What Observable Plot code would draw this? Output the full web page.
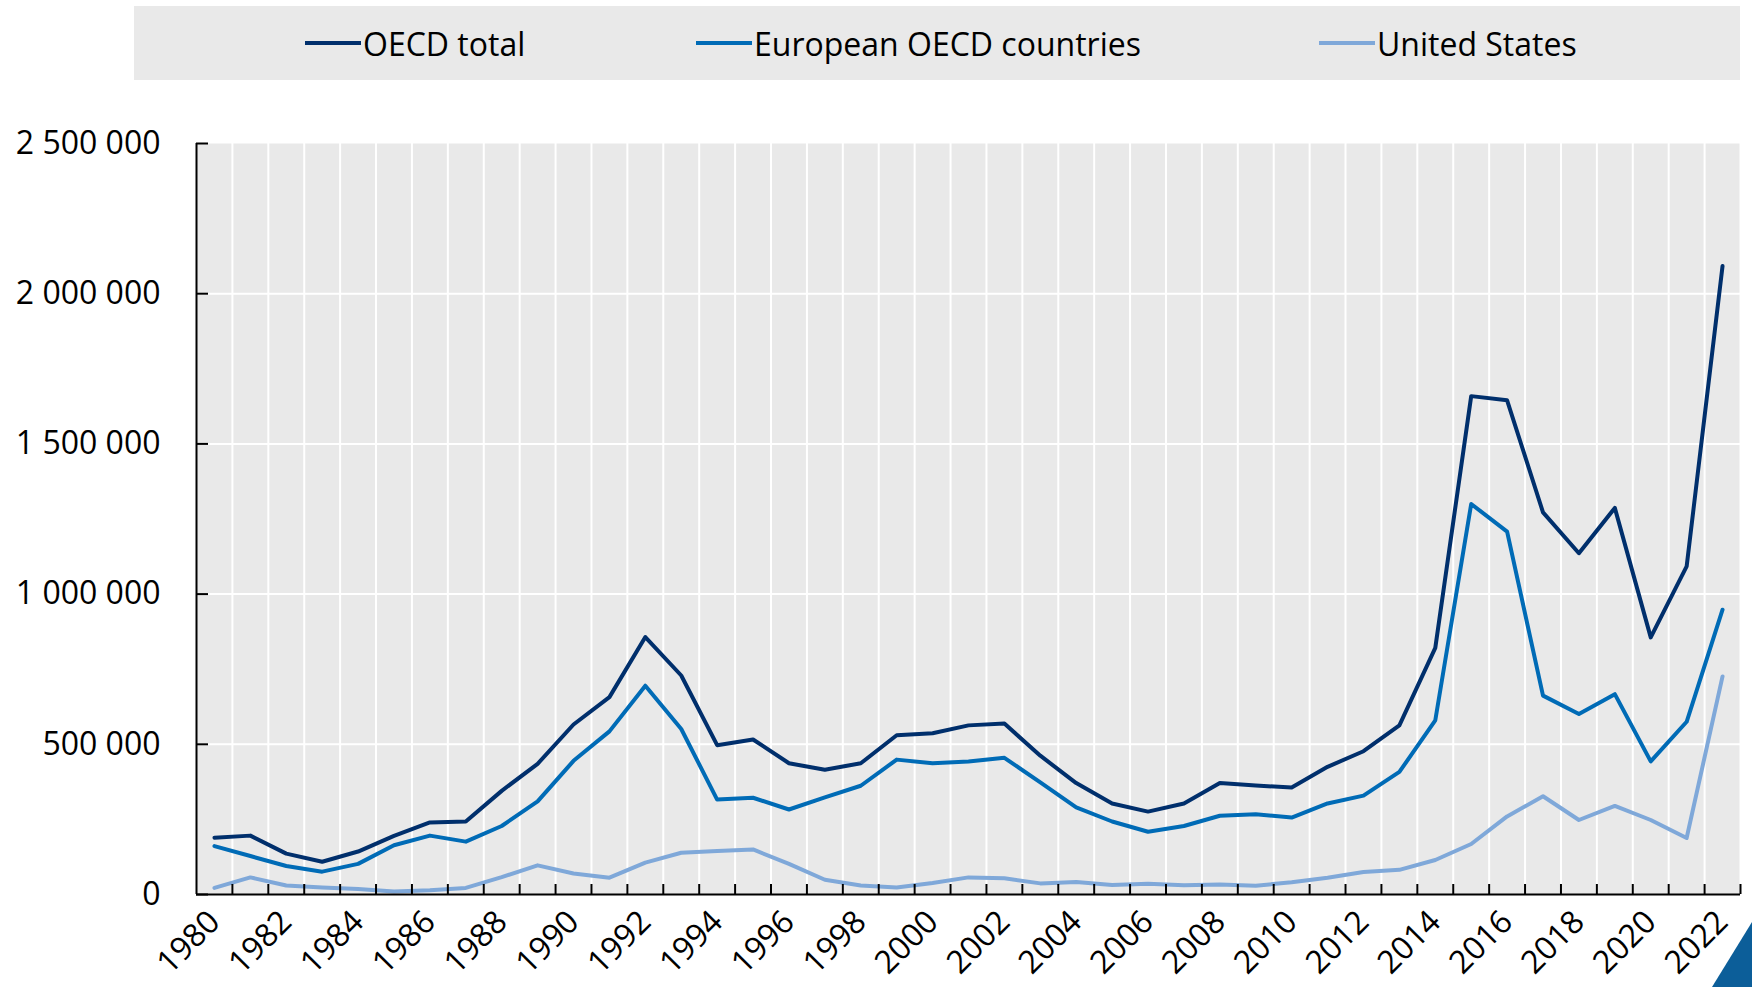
<!DOCTYPE html>
<html><head><meta charset="utf-8">
<script src="https://cdn.jsdelivr.net/npm/d3@7"></script>
<script src="https://cdn.jsdelivr.net/npm/@observablehq/plot@0.6"></script>
<style>
body{margin:0;background:#fff;font-family:"Open Sans",sans-serif;}
#wrap{position:relative;width:1752px;height:987px;overflow:hidden;}
#legend{position:absolute;left:134px;top:6px;width:1606px;height:74px;background:#e9e9e9;}
.item{position:absolute;top:0;height:74px;display:flex;align-items:center;font-size:32px;color:#000;white-space:nowrap;}
.sw{width:56px;height:4px;margin-right:2px;}
#chart{position:absolute;left:0;top:90px;}
#corner{position:absolute;right:0;bottom:0;width:40px;height:65px;background:#0c5e99;clip-path:polygon(100% 0,100% 100%,0 100%);}
</style>
</head><body>
<div id="wrap">
  <div id="legend"></div>
  <div id="chart"></div>
  <div id="corner"></div>
</div>
<script>
const years = [1980,1981,1982,1983,1984,1985,1986,1987,1988,1989,1990,1991,1992,1993,1994,1995,1996,1997,1998,1999,2000,2001,2002,2003,2004,2005,2006,2007,2008,2009,2010,2011,2012,2013,2014,2015,2016,2017,2018,2019,2020,2021,2022];
const seriesNames = ["OECD total", "European OECD countries", "United States"];
const seriesColors = ["#002f6c", "#006bb6", "#7fa8d9"];
const oecdTotal = [189000,196000,136000,109000,143000,195000,240000,243000,345000,435000,
  566000,657000,857000,729000,497000,516000,437000,415000,437000,530000,
  537000,563000,569000,462000,371000,303000,276000,303000,371000,363000,
  356000,425000,477000,563000,821000,1659000,1645000,1272000,1136000,1287000,
  856000,1092000,2092000];
const european = [161000,128000,95000,76000,102000,164000,196000,176000,228000,310000,
  445000,543000,695000,551000,316000,322000,283000,323000,362000,449000,
  437000,443000,455000,373000,290000,243000,209000,228000,262000,267000,
  256000,303000,329000,408000,580000,1300000,1208000,662000,601000,667000,
  443000,575000,948000];
const unitedStates = [22000,57000,30000,23000,18000,10000,14000,22000,58000,97000,
  70000,56000,106000,139000,145000,150000,102000,49000,30000,23000,
  38000,57000,54000,37000,42000,32000,36000,31000,33000,29000,
  41000,56000,75000,82000,115000,168000,260000,327000,248000,295000,
  248000,188000,726000];
const yTicks = [0, 500000, 1000000, 1500000, 2000000, 2500000];
const xLabels = years.filter(y => y % 2 === 0);

const seriesValues = [oecdTotal, european, unitedStates];
const data = [];
seriesNames.forEach((name, s) => years.forEach((yr, i) => data.push({year: yr, value: seriesValues[s][i], series: name})));
const bounds = d3.range(years[0] - 0.5, years[years.length - 1] + 1, 1);

const fmt = d3.formatLocale({decimal: ".", thousands: " ", grouping: [3], currency: ["", ""]}).format(",");

// legend
const legend = document.getElementById("legend");
const legendLeft = [171, 562, 1185];
seriesNames.forEach((name, i) => {
  const it = document.createElement("div");
  it.className = "item";
  it.style.left = legendLeft[i] + "px";
  it.innerHTML = `<span class="sw" style="background:${seriesColors[i]}"></span><span>${name}</span>`;
  legend.appendChild(it);
});

const chart = Plot.plot({
  width: 1752, height: 897,
  marginLeft: 196, marginRight: 12, marginTop: 53, marginBottom: 93,
  style: {fontFamily: "Open Sans, sans-serif", fontSize: "32px", background: "transparent", color: "#000"},
  x: {domain: [years[0] - 0.5, years[years.length - 1] + 0.5]},
  y: {domain: [0, 2500000]},
  color: {domain: seriesNames, range: seriesColors},
  marks: [
    Plot.frame({fill: "#e9e9e9", stroke: "none"}),
    Plot.gridX(bounds.slice(1), {stroke: "white", strokeOpacity: 1, strokeWidth: 2}),
    Plot.gridY(yTicks.slice(1, -1), {stroke: "white", strokeOpacity: 1, strokeWidth: 2}),
    Plot.line(data, {x: "year", y: "value", z: "series", stroke: "series", strokeWidth: 4}),
    Plot.ruleX([bounds[0]], {stroke: "black", strokeWidth: 2}),
    Plot.ruleY([0], {stroke: "black", strokeWidth: 2}),
    Plot.axisY(yTicks, {tickSize: 0, tickPadding: 36, tickFormat: fmt, fontSize: 32, label: null}),
    Plot.axisY(yTicks, {tickSize: 12, dx: 12, tickFormat: () => "", strokeWidth: 2, label: null}),
    Plot.axisX(xLabels, {tickSize: 0, tickRotate: -45, tickPadding: 22, tickFormat: d => String(d), fontSize: 32, label: null}),
    Plot.axisX(bounds.slice(1), {tickSize: 10, dy: -10, tickFormat: () => "", strokeWidth: 2, label: null})
  ]
});
document.getElementById("chart").appendChild(chart);
</script>
</body></html>
